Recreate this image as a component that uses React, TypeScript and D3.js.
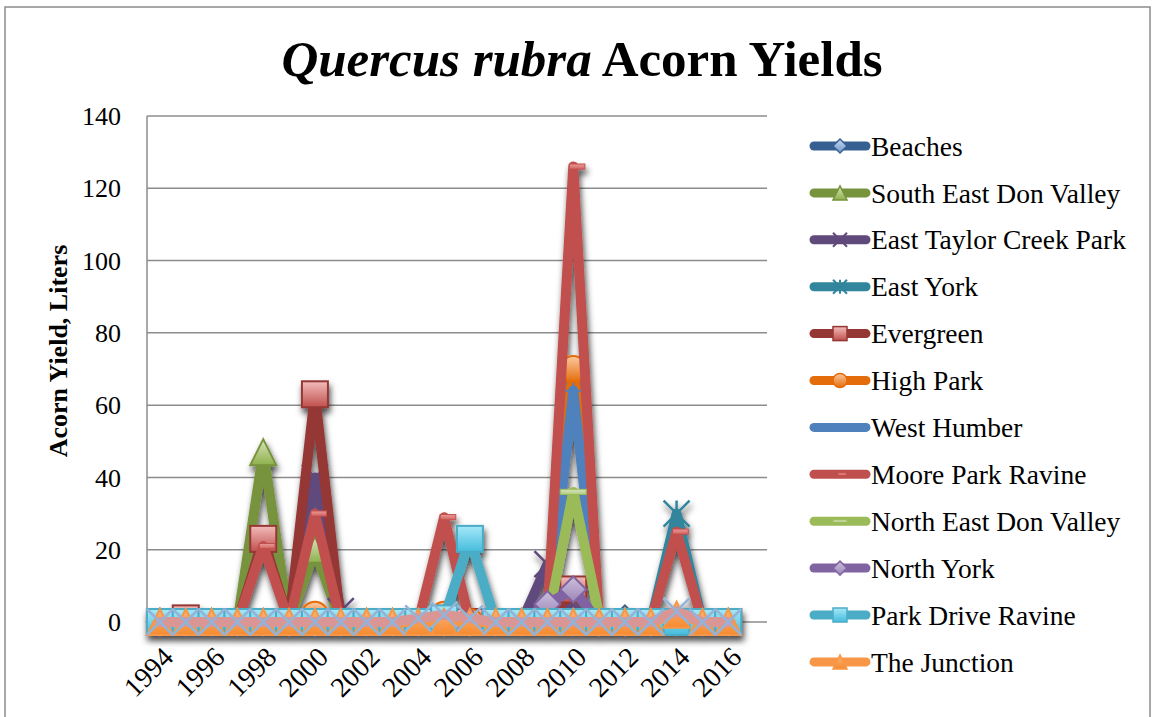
import * as d3 from "d3";
import React from "react";

// categories on the x axis (last one has no data)
const years = [
  "1994", "1995", "1996", "1997", "1998", "1999", "2000", "2001", "2002", "2003", "2004", "2005",
  "2006", "2007", "2008", "2009", "2010", "2011", "2012", "2013", "2014", "2015", "2016", "2017",
];
const yearLabels = ["1994", "1996", "1998", "2000", "2002", "2004", "2006", "2008", "2010", "2012", "2014", "2016"];
const yTicks = [0, 20, 40, 60, 80, 100, 120, 140];

// values 1994..2016
const beaches = [0, 0, 0, 0, 0, 0, 0, 0, 0, 0, 0, 0, 0, 0, 0, 0, 0, 0, 1, 0, 0, 0, 0];
const southEastDonValley = [0, 0, 0, 0, 47, 0, 20, 0, 0, 0, 0, 0, 0, 0, 0, 0, 0, 0, 0, 0, 0, 0, 0];
const eastTaylorCreekPark = [0, 0, 0, 0, 0, 0, 40, 3, 0, 0, 0, 0, 0, 0, 0, 16, 3, 0, 0, 0, 0, 0, 0];
const eastYork = [0, 0, 0, 0, 0, 0, 0, 0, 0, 0, 0, 0, 0, 0, 0, 0, 0, 0, 0, 0, 30, 0, 0];
const evergreen = [0, 1, 0, 0, 23, 0, 63, 0, 0, 0, 0, 0, 0, 0, 0, 0, 9, 0, 0, 0, 0, 0, 0];
const highPark = [0, 0, 0, 0, 0, 0, 2, 0, 0, 0, 0, 2, 0, 0, 0, 0, 70, 0, 0, 0, 0, 0, 0];
const westHumber = [0, 0, 0, 0, 0, 0, 0, 0, 0, 0, 0, 0, 0, 0, 0, 0, 64, 0, 0, 0, 0, 0, 0];
const mooreParkRavine = [0, 0, 0, 0, 21, 0, 30, 0, 0, 0, 0, 29, 0, 0, 0, 2, 126, 0, 0, 0, 25, 0, 0];
const northEastDonValley = [0, 0, 0, 0, 0, 0, 0, 0, 0, 0, 0, 0, 0, 0, 0, 0, 36, 2, 0, 0, 0, 0, 0];
const northYork = [0, 0, 0, 0, 0, 0, 0, 0, 0, 0, 0, 0, 0, 0, 0, 5, 9, 0, 0, 0, 0, 0, 0];
const parkDriveRavine = [0, 0, 0, 0, 0, 0, 0, 0, 0, 0, 0, 1, 23, 0, 0, 0, 0, 0, 0, 0, 0, 0, 0];
const theJunction = [0, 0, 0, 0, 0, 0, 0, 0, 0, 0, 0, 0, 0, 0, 0, 0, 0, 0, 0, 0, 2, 0, 0];
// series whose legend entry is cut off at the bottom of the chart
const unlisted = [0, 0, 0, 0, 0, 0, 0, 0, 0, 0, 1, 2, 1, 0, 0, 0, 0, 0, 0, 0, 3, 0, 0];

type Series = {
  name: string;
  values: number[];
  line: string;
  marker: string;
  light: string;
  dark: string;
  edge: string;
  legend: boolean;
};

const series: Series[] = [
  { name: "Beaches", values: beaches, line: "#376092", marker: "diamond", light: "#c6d9f1", dark: "#6f97cb", edge: "#376092", legend: true },
  { name: "South East Don Valley", values: southEastDonValley, line: "#77933c", marker: "triangle", light: "#d7e4bd", dark: "#8fb04c", edge: "#77933c", legend: true },
  { name: "East Taylor Creek Park", values: eastTaylorCreekPark, line: "#604a7b", marker: "x", light: "#604a7b", dark: "#604a7b", edge: "#604a7b", legend: true },
  { name: "East York", values: eastYork, line: "#31859c", marker: "star", light: "#31859c", dark: "#31859c", edge: "#31859c", legend: true },
  { name: "Evergreen", values: evergreen, line: "#953735", marker: "square", light: "#f2bcbb", dark: "#c0504d", edge: "#953735", legend: true },
  { name: "High Park", values: highPark, line: "#e46c0a", marker: "circle", light: "#fcc9a0", dark: "#e46c0a", edge: "#e46c0a", legend: true },
  { name: "West Humber", values: westHumber, line: "#4f81bd", marker: "plus", light: "#4f81bd", dark: "#4f81bd", edge: "#4f81bd", legend: true },
  { name: "Moore Park Ravine", values: mooreParkRavine, line: "#c0504d", marker: "dash", light: "#ec9c9a", dark: "#d0615e", edge: "#c0504d", legend: true },
  { name: "North East Don Valley", values: northEastDonValley, line: "#9bbb59", marker: "longdash", light: "#d7e4bd", dark: "#b3cc82", edge: "#9bbb59", legend: true },
  { name: "North York", values: northYork, line: "#8064a2", marker: "diamond", light: "#ccc1da", dark: "#9b85ba", edge: "#8064a2", legend: true },
  { name: "Park Drive Ravine", values: parkDriveRavine, line: "#4bacc6", marker: "square", light: "#a5e8f8", dark: "#45bcdc", edge: "#4bacc6", legend: true },
  { name: "The Junction", values: theJunction, line: "#f79646", marker: "triangle", light: "#fbb47a", dark: "#f68a2e", edge: "#f79646", legend: true },
  { name: "", values: unlisted, line: "#d99694", marker: "x", light: "#95b3d7", dark: "#95b3d7", edge: "#95b3d7", legend: false },
];

const W = 1153;
const H = 717;
const plot = { left: 147, right: 767, top: 116, bottom: 622 };
const font = "'Liberation Serif', 'DejaVu Serif', serif";

const x = d3.scaleBand().domain(years).range([plot.left, plot.right]);
const y = d3.scaleLinear().domain([0, 140]).range([plot.bottom, plot.top]);

function Marker({ kind, cx, cy, s, s2, gid }: { kind: string; cx: number; cy: number; s: number; s2: Series; gid: string }) {
  const h = s / 2;
  const fill = `url(#${gid})`;
  const sw = s > 18 ? 2 : 1.5;
  if (kind === "diamond") {
    return <path d={`M${cx},${cy - h}L${cx + h},${cy}L${cx},${cy + h}L${cx - h},${cy}Z`} fill={fill} stroke={s2.edge} strokeWidth={sw} />;
  }
  if (kind === "square") {
    return <rect x={cx - h} y={cy - h} width={s} height={s} fill={fill} stroke={s2.edge} strokeWidth={sw} />;
  }
  if (kind === "triangle") {
    return <path d={`M${cx},${cy - h}L${cx + h},${cy + h}L${cx - h},${cy + h}Z`} fill={fill} stroke={s2.edge} strokeWidth={sw} />;
  }
  if (kind === "circle") {
    return <circle cx={cx} cy={cy} r={h} fill={fill} stroke={s2.edge} strokeWidth={sw} />;
  }
  if (kind === "x") {
    return <path d={`M${cx - h},${cy - h}L${cx + h},${cy + h}M${cx - h},${cy + h}L${cx + h},${cy - h}`} stroke={s2.edge} strokeWidth={sw + 0.5} fill="none" />;
  }
  if (kind === "star") {
    return (
      <path
        d={`M${cx - h},${cy - h}L${cx + h},${cy + h}M${cx - h},${cy + h}L${cx + h},${cy - h}M${cx},${cy - h}L${cx},${cy + h}`}
        stroke={s2.edge}
        strokeWidth={sw + 0.5}
        fill="none"
      />
    );
  }
  if (kind === "plus") {
    return <path d={`M${cx - h * 0.6},${cy}L${cx + h * 0.6},${cy}M${cx},${cy - h * 0.6}L${cx},${cy + h * 0.6}`} stroke={s2.edge} strokeWidth={sw} fill="none" />;
  }
  if (kind === "dash") {
    const w = s * 0.6;
    return <rect x={cx - w * 0.25} y={cy - s * 0.1} width={w} height={s * 0.2} fill={fill} stroke={s2.edge} strokeWidth={1} />;
  }
  // long dash
  return <rect x={cx - h} y={cy - s * 0.1} width={s} height={s * 0.2} fill={fill} stroke={s2.edge} strokeWidth={1} />;
}

export default function App() {
  const line = d3
    .line<number>()
    .x((_, i) => (x(years[i]) as number) + x.bandwidth() / 2)
    .y((d) => y(d));

  const legendStep = 46.9;
  const legendTop = 146;

  return (
    <svg width={W} height={H} style={{ position: "absolute", left: 0, top: 0, background: "#fff" }} fontFamily={font}>
      <defs>
        <filter id="shadow" x="-5%" y="-5%" width="110%" height="115%">
          <feDropShadow dx="1.5" dy="5" stdDeviation="3" floodColor="#000" floodOpacity="0.7" />
        </filter>
        {series.map((s, i) => (
          <linearGradient key={i} id={`g${i}`} x1="0" y1="0" x2="0" y2="1">
            <stop offset="0" stopColor={s.light} />
            <stop offset="1" stopColor={s.dark} />
          </linearGradient>
        ))}
      </defs>

      {/* chart frame */}
      <rect x={5} y={7} width={1145} height={720} fill="none" stroke="#8c8c8c" strokeWidth={1.5} />

      <text x={582} y={76} textAnchor="middle" fontSize={51} fontWeight="bold" fill="#000">
        <tspan fontStyle="italic">Quercus rubra</tspan>
        <tspan> Acorn Yields</tspan>
      </text>

      {/* gridlines */}
      {yTicks.map((t) => (
        <line key={t} x1={plot.left} x2={plot.right} y1={y(t)} y2={y(t)} stroke="#8c8c8c" strokeWidth={1.5} />
      ))}
      <line x1={plot.left} x2={plot.left} y1={plot.top} y2={plot.bottom} stroke="#8c8c8c" strokeWidth={1.5} />

      {yTicks.map((t) => (
        <text key={t} x={121} y={y(t)} dy="0.35em" textAnchor="end" fontSize={26} fill="#000">
          {t}
        </text>
      ))}

      <text transform={`translate(58,${(plot.top + plot.bottom) / 2 - 18}) rotate(-90)`} textAnchor="middle" dy="0.35em" fontSize={26} fontWeight="bold" fill="#000">
        Acorn Yield, Liters
      </text>

      {yearLabels.map((yr) => {
        const cx = (x(yr) as number) + x.bandwidth() / 2;
        return (
          <text key={yr} transform={`translate(${cx + 8},${plot.bottom + 30}) rotate(-45)`} textAnchor="end" dy="0.35em" fontSize={28} fill="#000">
            {yr}
          </text>
        );
      })}

      {/* series, one shared shadow under the whole stack */}
      <g filter="url(#shadow)">
        {series.map((s, i) => (
          <g key={i}>
            <path d={line(s.values) || ""} fill="none" stroke={s.line} strokeWidth={10} strokeLinejoin="round" strokeLinecap="round" />
            {s.values.map((v, j) => (
              <Marker key={j} kind={s.marker} cx={(x(years[j]) as number) + x.bandwidth() / 2} cy={y(v)} s={26} s2={s} gid={`g${i}`} />
            ))}
          </g>
        ))}
      </g>

      {/* legend */}
      {series
        .filter((s) => s.legend)
        .map((s, i) => {
          const ly = legendTop + i * legendStep;
          const gi = series.indexOf(s);
          return (
            <g key={s.name}>
              <line x1={814} x2={866} y1={ly} y2={ly} stroke={s.line} strokeWidth={9} strokeLinecap="round" />
              <Marker kind={s.marker} cx={840} cy={ly} s={14} s2={s} gid={`g${gi}`} />
              <text x={871} y={ly} dy="0.35em" fontSize={27.5} fill="#000">
                {s.name}
              </text>
            </g>
          );
        })}
    </svg>
  );
}
